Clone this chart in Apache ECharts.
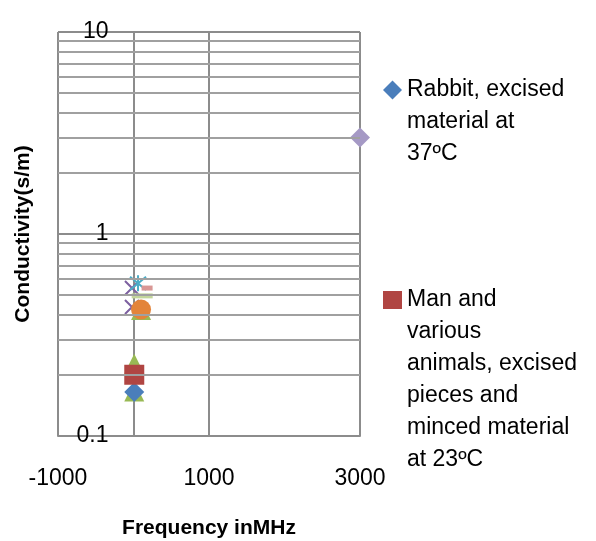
<!DOCTYPE html>
<html>
<head>
<meta charset="utf-8">
<script src="https://cdn.jsdelivr.net/npm/echarts@6/dist/echarts.min.js"></script>
<style>html,body{margin:0;padding:0;background:#fff;}#c{width:596px;height:541px;}</style>
</head>
<body>
<div id="c"></div>
<script>
// ---- data ----
var xTickMin = -1000, xTickMax = 3000, xTickStep = 2000;
var yMin = 0.1, yMax = 10;
var minorGridValues = [0.2, 0.3, 0.4, 0.5, 0.6, 0.7, 0.8, 0.9, 2, 3, 4, 5, 6, 7, 8, 9];
var legendNames = ['Rabbit, excised material at 37ºC', 'Man and various animals, excised pieces and minced material at 23ºC'];
var legendLines1 = ['Rabbit, excised', 'material at', '37ºC'];
var legendLines2 = ['Man and', 'various', 'animals, excised', 'pieces and', 'minced material', 'at 23ºC'];
var seriesTriangle = [[10, 0.228], [10, 0.166], [100, 0.42]];
var seriesRabbit = [[10, 0.165]];
var seriesMan = [[10, 0.201]];
var seriesX = [[-20, 0.54], [-20, 0.435]];
var seriesStar = [[60, 0.57]];
var seriesCircle = [[100, 0.423]];
var seriesLongDash = [[115, 0.494]];
var seriesShortDash = [[180, 0.54]];
var seriesDiamond2 = [[3000, 3.0]];

var FONT = '"Liberation Sans", Arial, sans-serif';
var grid = '#8c8c8c';
var gridLeft = 58, gridRight = 236, W = 596;
var chart = echarts.init(document.getElementById('c'));
var xPath = 'path://M0,0L10,10M10,0L0,10';
var starPath = 'path://M0,0L10,10M10,0L0,10M5,-1L5,11';
// vertical value axis sits where frequency = 0
var plotW = W - gridLeft - gridRight;
var yAxisShift = plotW * (0 - xTickMin) / (xTickMax - xTickMin);

function legendText(lines) {
  var pad = [];
  for (var i = 0; i < lines.length - 1; i++) pad.push(' ');
  return pad.concat(lines).join('\n');
}

chart.setOption({
  animation: false,
  backgroundColor: '#fff',
  grid: {left: gridLeft, right: gridRight, top: 32, bottom: 105, containLabel: false, outerBoundsMode: 'none'},
  xAxis: {
    type: 'value', min: xTickMin, max: xTickMax, interval: xTickStep,
    name: 'Frequency inMHz', nameLocation: 'middle', nameGap: 82,
    nameTextStyle: {fontFamily: FONT, fontSize: 21, fontWeight: 'bold', color: '#000'},
    axisLine: {onZero: false, lineStyle: {color: grid, width: 2}},
    axisTick: {show: false},
    axisLabel: {margin: 31, fontFamily: FONT, fontSize: 23, color: '#000', formatter: function (v) { return String(v); }},
    splitLine: {show: true, lineStyle: {color: grid, width: 2}}
  },
  yAxis: {
    type: 'log', logBase: 10, min: yMin, max: yMax,
    offset: -yAxisShift,
    name: 'Conductivity(s/m)', nameLocation: 'middle', nameGap: 100,
    nameTextStyle: {fontFamily: FONT, fontSize: 21, fontWeight: 'bold', color: '#000'},
    axisLine: {show: true, onZero: false, lineStyle: {color: grid, width: 2}},
    axisTick: {show: false},
    axisLabel: {margin: 25, fontFamily: FONT, fontSize: 23, color: '#000'},
    splitLine: {show: true, lineStyle: {color: grid, width: 2}}
  },
  legend: [
    {
      data: [legendNames[0]], orient: 'vertical', left: 383, top: 10, padding: 0,
      itemWidth: 19, itemHeight: 19, icon: 'diamond', selectedMode: false,
      formatter: function () { return legendText(legendLines1); },
      textStyle: {fontFamily: FONT, fontSize: 23, lineHeight: 32, color: '#000'}
    },
    {
      data: [legendNames[1]], orient: 'vertical', left: 383, top: 124, padding: 0,
      itemWidth: 19, itemHeight: 18, icon: 'rect', selectedMode: false,
      formatter: function () { return legendText(legendLines2); },
      textStyle: {fontFamily: FONT, fontSize: 23, lineHeight: 32, color: '#000'}
    }
  ],
  series: [
    {
      type: 'scatter', name: 'grid', data: [], silent: true,
      markLine: {
        silent: true, symbol: 'none', label: {show: false},
        lineStyle: {color: '#a0a0a0', width: 2, type: 'solid'},
        data: minorGridValues.map(function (v) { return {yAxis: v}; })
      }
    },
    {type: 'scatter', name: 'Series 3', data: seriesTriangle, symbol: 'triangle', symbolSize: 20, itemStyle: {color: '#98B954', opacity: 1}},
    {type: 'scatter', name: legendNames[0], data: seriesRabbit, symbol: 'diamond', symbolSize: 20, itemStyle: {color: '#4A7EBB', opacity: 1}},
    {type: 'scatter', name: legendNames[1], data: seriesMan, symbol: 'rect', symbolSize: 20, itemStyle: {color: '#B04542', opacity: 1}},
    {type: 'scatter', name: 'Series 4', data: seriesX, symbol: xPath, symbolSize: 14, itemStyle: {color: 'none', borderColor: '#7D60A0', borderWidth: 2, opacity: 1}},
    {type: 'scatter', name: 'Series 5', data: seriesStar, symbol: starPath, symbolSize: 16, itemStyle: {color: 'none', borderColor: '#4BACC6', borderWidth: 2, opacity: 1}},
    {type: 'scatter', name: 'Series 6', data: seriesCircle, symbol: 'circle', symbolSize: 20, itemStyle: {color: '#E3843A', opacity: 1}},
    {type: 'scatter', name: 'Series 7', data: seriesLongDash, symbol: 'rect', symbolSize: [21, 5], itemStyle: {color: '#C3D69B', opacity: 1}},
    {type: 'scatter', name: 'Series 8', data: seriesShortDash, symbol: 'rect', symbolSize: [11, 5], itemStyle: {color: '#D99795', opacity: 1}},
    {type: 'scatter', name: 'Series 9', data: seriesDiamond2, symbol: 'diamond', symbolSize: 20, itemStyle: {color: '#A599C5', opacity: 1}}
  ]
});
</script>
</body>
</html>
